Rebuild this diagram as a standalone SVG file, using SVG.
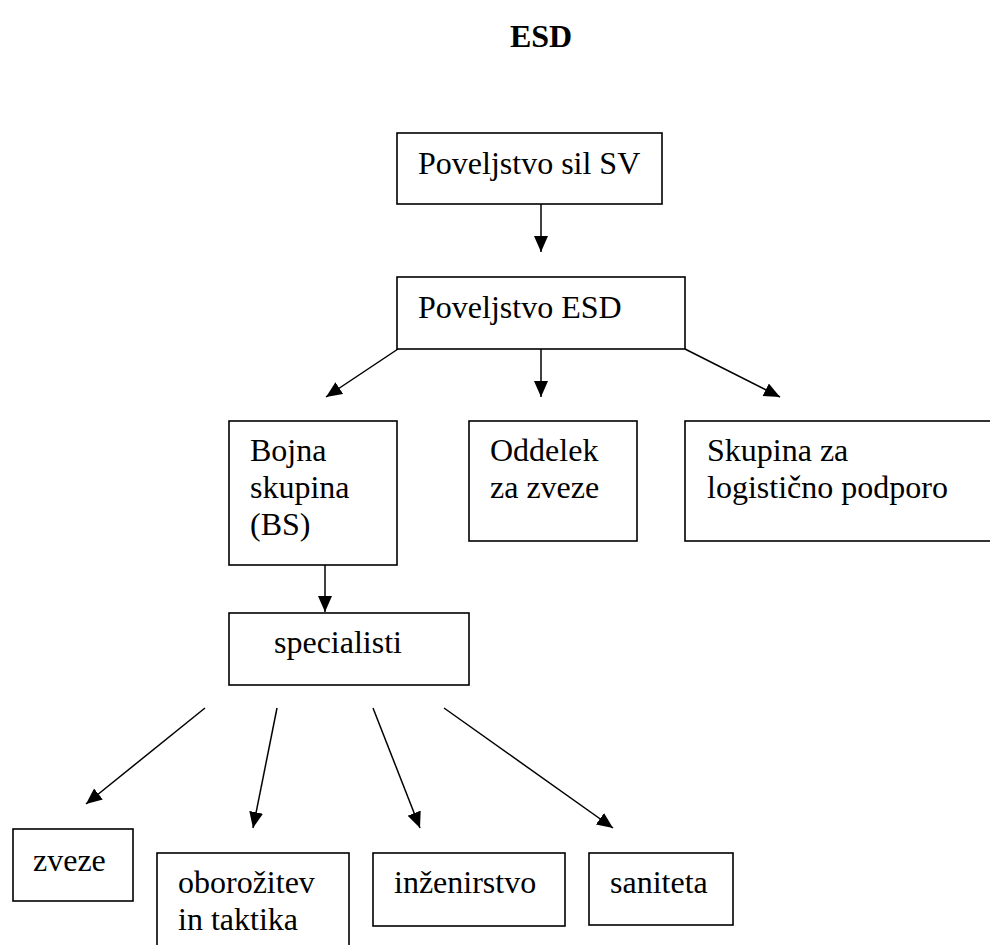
<svg xmlns="http://www.w3.org/2000/svg" width="990" height="945" viewBox="0 0 990 945">
<style>
.box{fill:#fff;stroke:#000;stroke-width:1.6}
.t{font-family:"Liberation Serif","Times New Roman",serif;font-size:32px;fill:#000}
.title{font-family:"Liberation Serif","Times New Roman",serif;font-size:32px;font-weight:bold;fill:#000}
.c{stroke:#000;stroke-width:1.5;fill:none;marker-end:url(#arr)}
</style>
<defs>
<marker id="arr" markerUnits="userSpaceOnUse" markerWidth="17" markerHeight="15" refX="16" refY="7" orient="auto">
<path d="M0,0 L16,7 L0,14 z" fill="#000"/>
</marker>
</defs>
<rect width="990" height="945" fill="#fff"/>
<text class="title" x="541" y="47" text-anchor="middle">ESD</text>
<g id="connectors">
<line class="c" x1="541" y1="204" x2="541" y2="252"/>
<line class="c" x1="398" y1="349" x2="326" y2="397"/>
<line class="c" x1="541" y1="349" x2="541" y2="397"/>
<line class="c" x1="685" y1="349" x2="780" y2="397"/>
<line class="c" x1="325" y1="565" x2="325" y2="612"/>
<line class="c" x1="205" y1="708" x2="86" y2="804"/>
<line class="c" x1="277" y1="708" x2="253" y2="828"/>
<line class="c" x1="373" y1="708" x2="420" y2="828"/>
<line class="c" x1="444" y1="708" x2="613" y2="828"/>
</g>
<g id="n-poveljstvo-sil-sv">
<rect class="box" x="397" y="133" width="265" height="71"/>
<text class="t" x="418" y="174">Poveljstvo sil SV</text>
</g>
<g id="n-poveljstvo-esd">
<rect class="box" x="397" y="277" width="288" height="72"/>
<text class="t" x="418" y="318">Poveljstvo ESD</text>
</g>
<g id="n-bojna-skupina">
<rect class="box" x="229" y="421" width="168" height="144"/>
<text class="t" x="250" y="461">Bojna</text>
<text class="t" x="250" y="498">skupina</text>
<text class="t" x="250" y="535">(BS)</text>
</g>
<g id="n-oddelek">
<rect class="box" x="469" y="421" width="168" height="120"/>
<text class="t" x="490" y="461">Oddelek</text>
<text class="t" x="490" y="498">za zveze</text>
</g>
<g id="n-skupina-logistika">
<rect class="box" x="685" y="421" width="320" height="120"/>
<text class="t" x="707" y="461">Skupina za</text>
<text class="t" x="707" y="498">logistično podporo</text>
</g>
<g id="n-specialisti">
<rect class="box" x="229" y="613" width="240" height="72"/>
<text class="t" x="274" y="653">specialisti</text>
</g>
<g id="n-zveze">
<rect class="box" x="13" y="829" width="120" height="72"/>
<text class="t" x="33" y="871">zveze</text>
</g>
<g id="n-oborozitev">
<rect class="box" x="157" y="853" width="192" height="110"/>
<text class="t" x="178" y="893">oborožitev</text>
<text class="t" x="178" y="930">in taktika</text>
</g>
<g id="n-inzenirstvo">
<rect class="box" x="373" y="853" width="192" height="73"/>
<text class="t" x="394" y="893">inženirstvo</text>
</g>
<g id="n-saniteta">
<rect class="box" x="589" y="853" width="144" height="72"/>
<text class="t" x="610" y="893">saniteta</text>
</g>
</svg>
